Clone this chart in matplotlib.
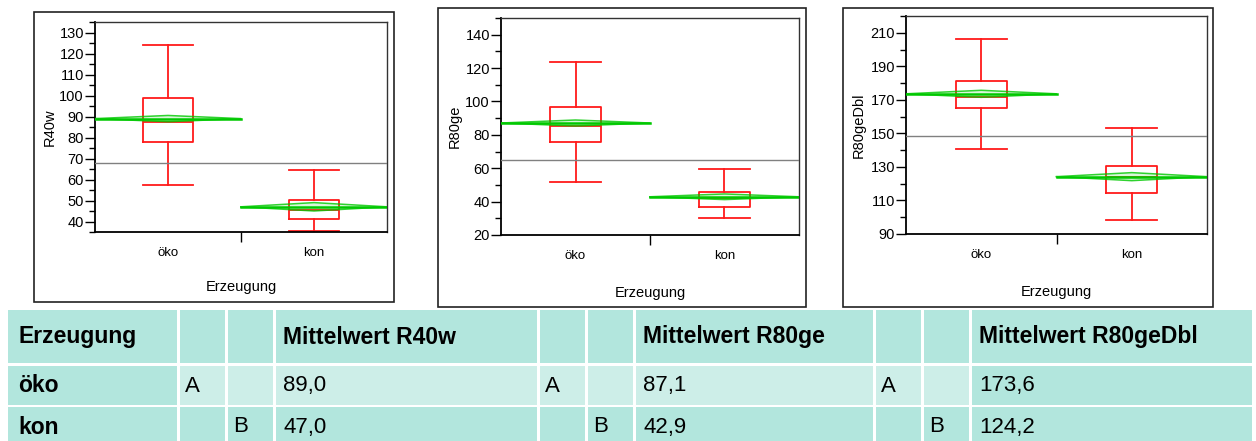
import numpy as np
import matplotlib.pyplot as plt
from matplotlib.patches import Rectangle

plt.rcParams["font.family"] = ["Liberation Sans", "DejaVu Sans"]

groups = ["öko", "kon"]
variables = ["R40w", "R80ge", "R80geDbl"]

# lower whisker, q1, median, q3, upper whisker for öko / kon
r40w_stats = [[57.2, 77.7, 87.2, 98.9, 124.0], [35.6, 41.0, 45.5, 50.4, 64.5]]
r80ge_stats = [[51.8, 75.6, 85.4, 96.6, 123.6], [30.2, 36.8, 42.0, 45.8, 59.8]]
r80gedbl_stats = [[140.5, 165.2, 171.7, 181.1, 206.4], [98.6, 114.7, 123.8, 130.5, 153.0]]

# group means and half heights of the mean diamonds
r40w_means = [89.0, 47.0]
r80ge_means = [87.1, 42.9]
r80gedbl_means = [173.6, 124.2]
r40w_ci = [1.5, 2.0]
r80ge_ci = [1.8, 1.7]
r80gedbl_ci = [2.1, 2.4]

grand_means = [67.7, 64.8, 148.6]

# connecting letters (two columns per variable)
letters = [["A", ""], ["", "B"]]

all_stats = [r40w_stats, r80ge_stats, r80gedbl_stats]
all_means = [r40w_means, r80ge_means, r80gedbl_means]
all_ci = [r40w_ci, r80ge_ci, r80gedbl_ci]

W, H = 1256, 441
fig = plt.figure(figsize=(W / 100, H / 100), dpi=100)

# background layer in pixel coordinates for frames and the table
bg = fig.add_axes([0, 0, 1, 1])
bg.set_xlim(0, W)
bg.set_ylim(H, 0)
bg.axis("off")

frames = [(34, 12, 360, 290), (438, 8, 368, 299), (843, 8, 370, 299)]
for x, y, w, h in frames:
    bg.add_patch(Rectangle((x, y), w, h, fill=False, ec="#222222", lw=1.2))

# axes boxes in pixels: left, top, right, bottom
axes_px = [(95, 22, 387, 232), (501, 18, 799, 235), (906, 16, 1207, 234)]
ylims = [(35, 135), (20, 150), (90, 220)]
major_ticks = [np.arange(40, 131, 10), np.arange(20, 141, 20), np.arange(90, 211, 20)]
minor_ticks = [np.arange(35, 136, 10), np.arange(30, 151, 20), np.arange(100, 221, 20)]
ylabel_x = [-0.13, -0.131, -0.133]
xlabel_y = [-0.229, -0.235, -0.234]

red = "#ff1a1a"
green = "#00c800"
positions = [0.5, 1.5]

for i, var in enumerate(variables):
    l, t, r, b = axes_px[i]
    ax = fig.add_axes([l / W, (H - b) / H, (r - l) / W, (b - t) / H])

    stats = [
        dict(whislo=s[0], q1=s[1], med=s[2], q3=s[3], whishi=s[4], fliers=[], label=g)
        for s, g in zip(all_stats[i], groups)
    ]
    line = dict(color=red, lw=1.3)
    ax.bxp(stats, positions=positions, widths=0.34, capwidths=0.34,
           showfliers=False, manage_ticks=False,
           boxprops=line, whiskerprops=line, capprops=line, medianprops=line)

    # mean diamonds spanning each group's width
    for pos, m, h in zip(positions, all_means[i], all_ci[i]):
        xs = [pos - 0.5, pos, pos + 0.5, pos, pos - 0.5]
        ys = [m, m + h, m, m - h, m]
        ax.fill(xs, ys, facecolor=green, alpha=0.15, zorder=4)
        ax.plot(xs, ys, color=green, lw=1.1, alpha=0.8, zorder=5)
        ax.plot([pos - 0.5, pos + 0.5], [m, m], color=green, lw=1.8, zorder=5)

    ax.axhline(grand_means[i], color="#808080", lw=1.0, zorder=3)

    ax.set_xlim(0, 2)
    ax.set_ylim(*ylims[i])
    ax.set_yticks(major_ticks[i])
    ax.set_yticks(minor_ticks[i], minor=True)
    ax.set_xticks(positions)
    ax.set_xticklabels(groups, fontsize=9.5)
    ax.set_xticks([1.0], minor=True)
    ax.tick_params(axis="x", which="major", length=0, pad=10.5)
    ax.tick_params(axis="x", which="minor", length=7, width=1)
    ax.tick_params(axis="y", which="major", length=7, width=1, labelsize=10.5, pad=1)
    ax.tick_params(axis="y", which="minor", length=4.5, width=1)

    for side in ["left", "bottom"]:
        ax.spines[side].set_linewidth(1.3)
    for side in ["top", "right"]:
        ax.spines[side].set_linewidth(1.0)
        ax.spines[side].set_color("#333333")

    ax.set_ylabel(var, fontsize=10.5)
    ax.yaxis.set_label_coords(ylabel_x[i], 0.5)
    ax.set_xlabel("Erzeugung", fontsize=10.5)
    ax.xaxis.set_label_coords(0.5, xlabel_y[i])

# summary table below the plots
dark = "#b2e6dd"
light = "#cdeee8"
col_edges = [(8, 177), (180, 225), (228, 273), (276, 537), (540, 585),
             (588, 633), (636, 873), (876, 921), (924, 969), (972, 1252)]
row_edges = [(310, 363), (366, 405), (407, 446)]
row_text_y = [337, 386, 427]

header = ["Erzeugung", "", ""]
for var in variables:
    header += ["Mittelwert " + var, "", ""]
header = header[:10]

rows = [header]
for g_idx, g in enumerate(groups):
    row = [g]
    for means in all_means:
        row += letters[g_idx] + [f"{means[g_idx]:.1f}".replace(".", ",")]
    rows.append(row)

for r_idx, (y0, y1) in enumerate(row_edges):
    for c_idx, (x0, x1) in enumerate(col_edges):
        color = light if (r_idx == 1 and 1 <= c_idx <= 8) else dark
        bg.add_patch(Rectangle((x0, y0), x1 - x0, y1 - y0, fc=color, ec="none"))
        txt = rows[r_idx][c_idx]
        if not txt:
            continue
        bold = r_idx == 0 or c_idx == 0
        pad = 10 if c_idx == 0 else (5 if x1 - x0 < 60 else 7)
        bg.text(x0 + pad, row_text_y[r_idx], txt, va="center", ha="left",
                fontsize=16.5 if bold else 16,
                fontweight="bold" if bold else "normal", color="black")

fig.savefig("out.png", dpi=100)
